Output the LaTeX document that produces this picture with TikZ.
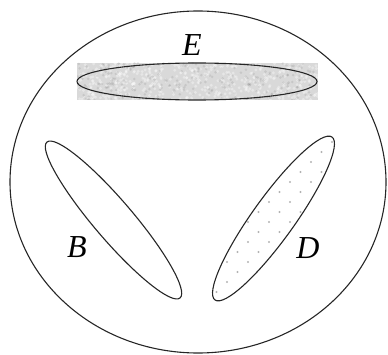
\documentclass[tikz,border=0pt]{standalone}
\usepackage{fontspec}
\setmainfont{Liberation Serif}
\begin{document}
\begin{tikzpicture}[x=1pt,y=1pt,
  outl/.style={line width=1.1pt, draw=black!85},
  lab/.style={font=\fontsize{32}{32}\selectfont\itshape, inner sep=0pt},
  dotfill/.style={fill=black!30}]
\useasboundingbox (0,0) rectangle (388,354);
% outer circle
\draw[outl] (198,172) ellipse [x radius=188, y radius=171];
% E: textured grey rectangle and ellipse
\fill[black!15] (77,254) rectangle (318,291);
\pgfmathsetseed{4242}
\begin{scope}
\clip (77,254) rectangle (318,291);
\foreach \k in {1,...,500}{
  \pgfmathsetmacro\xx{77+241*rnd}
  \pgfmathsetmacro\yy{254+37*rnd}
  \fill[white,opacity=0.35] (\xx,\yy) circle (1.6);
}
\foreach \k in {1,...,250}{
  \pgfmathsetmacro\xx{77+241*rnd}
  \pgfmathsetmacro\yy{254+37*rnd}
  \fill[black,opacity=0.08] (\xx,\yy) circle (1.4);
}
\end{scope}
\draw[outl] (197,272.5) ellipse [x radius=120, y radius=18.5];
% B ellipse
\draw[outl, shift={(113.5,134)}, rotate=-49.5] (0,0) ellipse [x radius=102.5, y radius=19.5];
% D ellipse with dots
\begin{scope}
\clip[shift={(273.5,135.5)}, rotate=54.3] (0,0) ellipse [x radius=100.3, y radius=21];
\foreach \j in {0,...,18}{
  \foreach \i in {0,...,7}{
    \fill[dotfill] ({206+21*\i+10.5*mod(\j,2)}, {52+10*\j}) circle (1.1);
  }
}
\end{scope}
\draw[outl, shift={(273.5,135.5)}, rotate=54.3] (0,0) ellipse [x radius=100.3, y radius=21];
% labels
\node[lab] (E) at (192,309) {E};
\node[lab] (B) at (77,107) {B};
\node[lab] (D) at (308,106) {D};
\end{tikzpicture}
\end{document}
